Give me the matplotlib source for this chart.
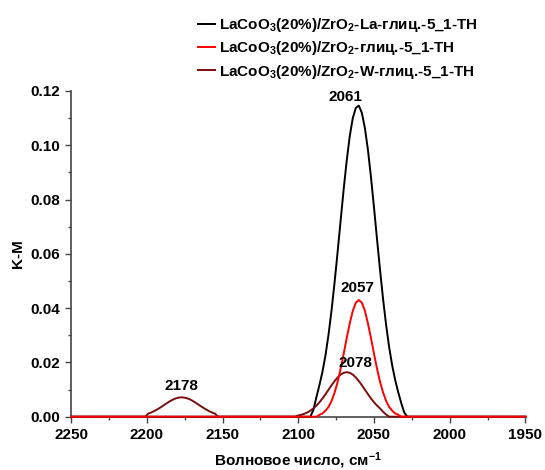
import matplotlib
matplotlib.use("Agg")
import matplotlib.pyplot as plt
from matplotlib.ticker import MultipleLocator, FormatStrFormatter

plt.rcParams['font.family'] = ['Liberation Sans', 'DejaVu Sans']
plt.rcParams['font.weight'] = 'bold'
plt.rcParams['mathtext.default'] = 'regular'

# spectra (wavenumber, K-M)
la_wn = [2250, 2092, 2090, 2088, 2086, 2084, 2082, 2080, 2078, 2076, 2074, 2072,
         2070, 2068, 2066, 2064, 2062, 2060, 2058, 2056, 2054, 2052, 2050, 2048,
         2046, 2044, 2042, 2040, 2038, 2036, 2034, 2032, 2030, 2028, 1950]
la_km = [0, 0, 0.0025, 0.0072, 0.0117, 0.0166, 0.0227, 0.0303, 0.0393, 0.0496, 0.0608, 0.0724,
         0.0839, 0.0944, 0.1034, 0.1100, 0.1138, 0.1146, 0.1119, 0.1063, 0.0983, 0.0883, 0.0771, 0.0654,
         0.0540, 0.0433, 0.0338, 0.0256, 0.0189, 0.0135, 0.0090, 0.005, 0.0015, 0, 0]

pure_wn = [2250, 2088, 2086, 2084, 2082, 2080, 2078, 2076, 2074, 2072, 2070, 2068, 2066,
           2064, 2062, 2060, 2058, 2056, 2054, 2052, 2050, 2048, 2046, 2044, 2042,
           2040, 2038, 2036, 2034, 2032, 1950]
pure_km = [0, 0, 0.0007, 0.0012, 0.0022, 0.0036, 0.0058, 0.0089, 0.0128, 0.0177, 0.0232, 0.0290, 0.0344,
           0.0390, 0.0420, 0.0430, 0.0420, 0.0390, 0.0344, 0.0290, 0.0232, 0.0177, 0.0128, 0.0089, 0.0058,
           0.0036, 0.0022, 0.0012, 0.0007, 0, 0]

w_wn = [2250, 2201, 2199, 2197, 2195, 2193, 2191, 2189, 2187, 2185, 2183, 2181, 2179,
        2177, 2175, 2173, 2171, 2169, 2167, 2165, 2163, 2161, 2159, 2157, 2155, 2153,
        2102, 2100, 2098, 2096, 2094, 2092, 2090, 2088, 2086, 2084, 2082, 2080, 2078,
        2076, 2074, 2072, 2070, 2068, 2066, 2064, 2062, 2060, 2058, 2056, 2054, 2052,
        2050, 2048, 2046, 2044, 2042, 2040, 1950]
w_km = [0, 0, 0.00115, 0.00157, 0.0021, 0.00271, 0.0034, 0.00414, 0.00489, 0.0056, 0.00623, 0.00672, 0.00703,
        0.00714, 0.00703, 0.00672, 0.00623, 0.0056, 0.00489, 0.00414, 0.0034, 0.00271, 0.0021, 0.00157, 0.00115, 0,
        0, 0.00047, 0.00072, 0.00108, 0.00157, 0.00222, 0.00306, 0.00409, 0.00532, 0.00674, 0.0083, 0.00995, 0.01159,
        0.01313, 0.01447, 0.01551, 0.01617, 0.0164, 0.01617, 0.01551, 0.01447, 0.01313, 0.01159, 0.00995, 0.0083, 0.00674,
        0.00532, 0.00409, 0.00306, 0.0018, 0.0008, 0, 0]

labels = [r'LaCoO$_3$(20%)/ZrO$_2$-La-глиц.-5_1-TH',
          r'LaCoO$_3$(20%)/ZrO$_2$-глиц.-5_1-TH',
          r'LaCoO$_3$(20%)/ZrO$_2$-W-глиц.-5_1-TH']

peak_text = ['2061', '2057', '2078', '2178']
peak_x = [2069, 2061, 2062.5, 2177]
peak_y = [0.1178, 0.0473, 0.0199, 0.0113]

fig = plt.figure(figsize=(5.45, 4.7), dpi=100)
ax = fig.add_axes([0.1303, 0.1134, 0.8339, 0.693])

# lines above the spines so the zero baseline shows red like the original
l1, = ax.plot(la_wn, la_km, color='black', lw=1.4, label=labels[0], clip_on=False, zorder=3)
l3, = ax.plot(w_wn, w_km, color='#7a0d0d', lw=1.4, label=labels[2], clip_on=False, zorder=3)
l2, = ax.plot(pure_wn, pure_km, color='#ff0000', lw=1.4, label=labels[1], clip_on=False, zorder=3)

for t, x, y in zip(peak_text, peak_x, peak_y):
    ax.text(x, y, t, ha='center', va='center', fontsize=11, fontweight='bold')

ax.set_xlim(2250, 1950)
ax.set_ylim(0, 0.12)
ax.xaxis.set_major_locator(MultipleLocator(50))
ax.xaxis.set_minor_locator(MultipleLocator(25))
ax.yaxis.set_major_locator(MultipleLocator(0.02))
ax.yaxis.set_minor_locator(MultipleLocator(0.01))
ax.yaxis.set_major_formatter(FormatStrFormatter('%.2f'))
ax.tick_params(which='major', length=4.5, width=1, labelsize=11, color='#444444')
ax.tick_params(which='minor', length=2.5, width=1, color='#444444')
for s in ['top', 'right']:
    ax.spines[s].set_visible(False)
for s in ['left', 'bottom']:
    ax.spines[s].set_linewidth(1.2)
    ax.spines[s].set_color('#444444')

ax.set_xlabel('Волновое число, см$^{-1}$', fontsize=11, fontweight='bold', labelpad=6)
ax.set_ylabel('K-M', fontsize=11, fontweight='bold', labelpad=4)

fig.legend(handles=[l1, l2, l3], loc='upper left', bbox_to_anchor=(0.352, 0.979),
           frameon=False, fontsize=11, handlelength=1.1, handletextpad=0.3,
           labelspacing=0.35, borderaxespad=0)

fig.savefig('out.png', dpi=100)
